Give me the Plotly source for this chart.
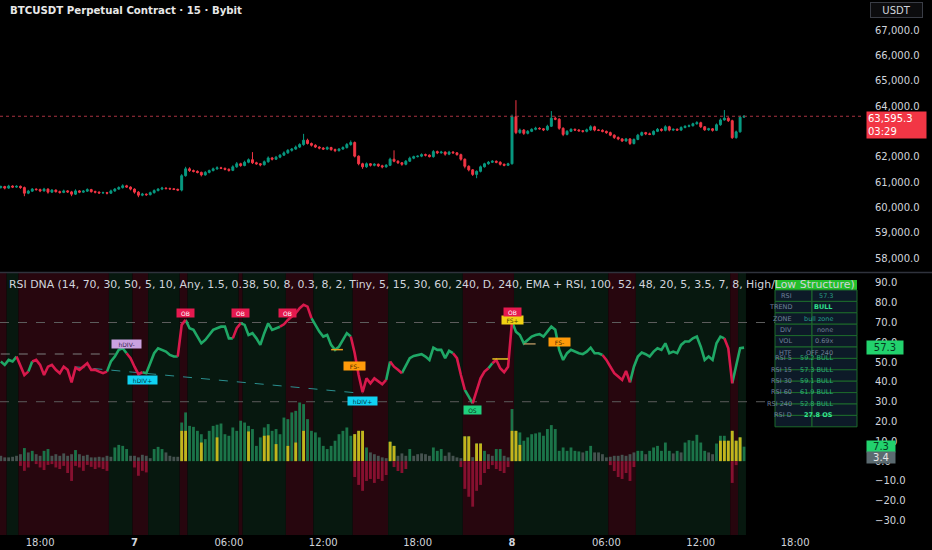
import pandas as pd
import plotly.graph_objects as go

# ---------------- data ----------------
start_time = "2024-07-06 15:30"
first_open = 60780

closes = [
    60820, 60760, 60840, 60800, 60830, 60780, 60560, 60640, 60720, 60700,
    60650, 60720, 60600, 60680, 60620, 60590, 60650, 60610, 60520, 60650,
    60600, 60640, 60700, 60620, 60600, 60570, 60580, 60560, 60650, 60720,
    60780, 60850, 60800, 60720, 60600, 60480, 60520, 60500, 60580, 60660,
    60720, 60760, 60740, 60730, 60710, 60680, 61250, 61520, 61450, 61420,
    61380, 61280, 61380, 61450, 61520, 61560, 61540, 61500, 61460, 61600,
    61720, 61650, 61780, 61880, 61760, 61720, 61680, 61800, 61950, 61900,
    61980, 62060, 62150, 62250, 62300, 62380, 62480, 62650, 62520, 62450,
    62380, 62340, 62300, 62360, 62280, 62240, 62300, 62360, 62480, 62560,
    62020, 61720, 61600, 61720, 61660, 61700, 61640, 61600, 61660, 61900,
    61820, 61760, 61700, 61820, 61940, 62000, 62020, 62080, 62060, 62000,
    62200, 62150, 62180, 62100, 62180, 62150, 62080, 61900, 61620, 61480,
    61300, 61420, 61600, 61720, 61780, 61820, 61780, 61700, 61660, 61720,
    63580, 62950, 63050, 62920, 63000, 63080, 63120, 63100, 63060, 63200,
    63520, 63480, 63120, 62880, 63000, 63080, 63050, 63020, 63000, 63060,
    63180, 63050, 63040, 63000, 62950, 62850, 62760, 62700, 62620, 62700,
    62520, 62680, 62850, 62950, 62900, 62880, 63000, 63080, 63040, 63180,
    63050, 63080, 63050, 63150, 63200, 63220, 63300, 63340, 63180, 63060,
    63100, 63040, 63260, 63450, 63520, 63420, 62750, 62980, 63560, 63595.3,
]
wick_up = [
    40, 30, 50, 30, 40, 30, 40, 50, 40, 30,
    40, 50, 30, 40, 30, 40, 50, 30, 40, 60,
    30, 40, 50, 30, 40, 30, 40, 30, 50, 40,
    50, 60, 40, 30, 30, 40, 50, 30, 40, 50,
    40, 50, 30, 40, 30, 30, 60, 80, 60, 40,
    40, 30, 50, 40, 50, 60, 40, 30, 40, 60,
    70, 40, 60, 50, 300, 40, 30, 50, 60, 40,
    50, 40, 60, 50, 40, 60, 50, 250, 60, 40,
    40, 30, 40, 50, 30, 40, 40, 50, 60, 80,
    40, 30, 40, 50, 30, 40, 30, 40, 50, 60,
    350, 40, 30, 50, 60, 40, 30, 50, 40, 30,
    60, 40, 50, 30, 50, 40, 30, 40, 30, 40,
    30, 40, 50, 40, 50, 40, 30, 40, 30, 40,
    80, 650, 60, 40, 50, 40, 60, 40, 30, 60,
    280, 60, 40, 40, 50, 40, 30, 40, 30, 50,
    60, 40, 30, 40, 30, 40, 30, 40, 30, 40,
    30, 40, 50, 40, 30, 50, 40, 50, 40, 60,
    40, 30, 40, 50, 40, 50, 40, 60, 40, 30,
    40, 30, 50, 60, 320, 40, 40, 50, 60, 40,
]
wick_dn = [
    40, 50, 30, 40, 30, 50, 120, 40, 30, 40,
    50, 30, 60, 30, 40, 50, 30, 40, 80, 30,
    40, 30, 30, 40, 50, 40, 30, 50, 30, 40,
    30, 40, 30, 50, 60, 80, 40, 50, 30, 40,
    30, 40, 30, 40, 30, 40, 50, 40, 50, 40,
    40, 60, 30, 40, 30, 40, 30, 40, 50, 30,
    40, 50, 30, 40, 50, 40, 60, 30, 40, 50,
    30, 40, 30, 40, 50, 30, 40, 50, 40, 50,
    40, 50, 30, 40, 50, 60, 40, 30, 40, 50,
    50, 60, 80, 40, 50, 40, 50, 60, 40, 30,
    40, 50, 60, 40, 30, 40, 30, 40, 50, 30,
    40, 50, 30, 60, 40, 30, 40, 60, 80, 60,
    60, 150, 40, 30, 40, 30, 40, 50, 40, 30,
    30, 60, 50, 60, 40, 30, 40, 30, 50, 40,
    30, 40, 60, 70, 40, 30, 40, 30, 50, 40,
    40, 50, 30, 40, 50, 40, 60, 50, 40, 30,
    60, 40, 30, 40, 50, 30, 40, 30, 50, 40,
    50, 40, 30, 40, 30, 40, 30, 40, 50, 40,
    40, 50, 30, 40, 30, 50, 50, 40, 30, 20,
]
rsi = [
    50.3, 48.6, 51.1, 50.3, 52.8, 47.7, 43.5, 45.2, 50.3, 51.1,
    48.6, 43.5, 47.7, 48.6, 46.1, 44.4, 47.7, 46.1, 39.8, 47.2,
    46.1, 47.7, 49.4, 46.1, 46.1, 45.2, 44.4, 45.2, 50.3, 52.8,
    56.2, 57.0, 54.5, 52.0, 47.7, 43.9, 44.9, 44.4, 49.4, 54.5,
    57.0, 56.2, 55.3, 53.6, 52.8, 52.8, 68.8, 71.3, 67.1, 66.3,
    62.9, 59.5, 61.2, 63.7, 66.3, 67.1, 67.9, 67.9, 62.0, 62.0,
    67.1, 69.6, 68.8, 63.7, 64.6, 62.0, 58.7, 64.6, 69.6, 66.3,
    67.1, 67.9, 69.1, 71.3, 73.0, 74.7, 77.2, 78.9, 78.0, 72.2,
    68.8, 65.4, 62.9, 63.7, 58.7, 56.2, 57.8, 61.2, 64.6, 62.9,
    54.5, 43.5, 34.8, 41.8, 39.3, 41.8, 40.5, 38.8, 41.0, 50.3,
    47.7, 46.1, 44.4, 48.6, 52.0, 53.1, 53.6, 54.0, 52.8, 51.1,
    57.3, 56.2, 56.2, 52.0, 55.7, 54.5, 52.0, 43.5, 36.0, 32.6,
    29.2, 35.1, 41.8, 45.2, 46.9, 49.4, 51.1, 46.9, 44.9, 47.7,
    70.5, 65.4, 63.7, 59.5, 61.2, 62.9, 63.7, 64.1, 62.9, 65.4,
    67.9, 66.3, 56.2, 51.1, 54.5, 56.2, 55.3, 54.5, 54.0, 55.3,
    57.3, 54.5, 54.5, 53.6, 51.1, 47.7, 44.4, 42.7, 41.0, 45.5,
    39.8, 47.7, 52.8, 54.8, 54.0, 52.8, 55.3, 57.0, 56.2, 59.5,
    54.5, 55.3, 54.5, 58.7, 60.4, 60.4, 62.0, 62.9, 57.8, 51.1,
    52.8, 51.1, 59.5, 62.9, 62.0, 57.0, 39.3, 47.7, 57.0, 57.3,
]
# 1 = bullish (green line), 0 = bearish (red line)
rsi_state = [
    0, 1, 1, 1, 1, 0, 0, 0, 1, 0,
    0, 0, 0, 0, 0, 0, 0, 0, 0, 0,
    0, 0, 0, 0, 0, 0, 0, 0, 1, 1,
    1, 1, 1, 0, 0, 0, 0, 1, 1, 1,
    1, 1, 1, 1, 1, 1, 0, 0, 1, 1,
    1, 1, 1, 1, 1, 1, 1, 1, 1, 1,
    0, 0, 1, 1, 1, 1, 1, 1, 1, 1,
    1, 1, 0, 0, 0, 0, 0, 0, 0, 0,
    1, 1, 1, 1, 1, 1, 1, 1, 1, 1,
    0, 0, 0, 0, 0, 0, 0, 0, 0, 1,
    0, 0, 0, 1, 1, 1, 1, 1, 1, 1,
    1, 1, 1, 1, 1, 1, 0, 0, 0, 1,
    1, 0, 0, 0, 0, 1, 0, 0, 0, 0,
    0, 1, 1, 1, 1, 1, 1, 1, 1, 1,
    1, 1, 1, 1, 1, 1, 1, 1, 1, 1,
    1, 1, 1, 1, 0, 0, 0, 0, 0, 0,
    0, 1, 1, 1, 1, 1, 1, 1, 1, 1,
    1, 1, 1, 1, 1, 1, 1, 1, 1, 1,
    1, 1, 1, 1, 1, 0, 0, 1, 1, 1,
]
# background regime: 1 = bull zone, 0 = bear zone
bg_state = [
    0, 0, 1, 1, 1, 0, 0, 0, 0, 0,
    0, 0, 0, 0, 0, 0, 0, 0, 0, 0,
    0, 0, 0, 0, 0, 0, 0, 0, 1, 1,
    1, 1, 1, 1, 0, 0, 0, 0, 1, 1,
    1, 1, 1, 1, 1, 1, 0, 0, 1, 1,
    1, 1, 1, 1, 1, 1, 1, 1, 1, 1,
    1, 0, 1, 1, 1, 1, 1, 1, 1, 1,
    1, 1, 1, 0, 0, 0, 0, 0, 0, 0,
    1, 1, 1, 1, 1, 1, 1, 1, 1, 1,
    0, 0, 0, 0, 0, 0, 0, 0, 0, 1,
    1, 1, 1, 1, 1, 1, 1, 1, 1, 1,
    1, 1, 1, 1, 1, 1, 1, 1, 0, 0,
    0, 0, 0, 0, 0, 0, 0, 0, 0, 0,
    0, 1, 1, 1, 1, 1, 1, 1, 1, 1,
    1, 1, 1, 1, 1, 1, 1, 1, 1, 1,
    1, 1, 1, 1, 1, 0, 0, 0, 0, 0,
    0, 0, 1, 1, 1, 1, 1, 1, 1, 1,
    1, 1, 1, 1, 1, 1, 1, 1, 1, 1,
    1, 1, 1, 1, 1, 1, 0, 0, 1, 1,
]
hist_up = [
    2.7, 1.9, 1.9, 2.2, 2.7, 3.5, 6.6, 4.4, 5.2, 3.5,
    2.7, 5.2, 6.1, 2.7, 3.5, 2.7, 3.9, 2.7, 3.5, 5.6,
    3.5, 2.7, 3.2, 1.9, 1.9, 2.2, 1.9, 2.7, 2.2, 6.9,
    8.2, 7.7, 6.1, 2.7, 2.7, 1.9, 3.2, 2.7, 1.5, 6.1,
    7.2, 6.1, 4.4, 2.7, 2.2, 2.2, 19.5, 24.6, 17.8, 17.3,
    15.3, 13.6, 11.1, 15.3, 17.8, 18.4, 19.0, 13.6, 12.8, 17.0,
    15.3, 20.4, 19.5, 17.8, 16.2, 7.7, 12.0, 17.0, 18.7, 15.3,
    16.2, 13.6, 22.0, 21.2, 24.6, 25.4, 29.6, 28.8, 21.2, 15.3,
    14.5, 12.0, 7.7, 6.1, 7.7, 10.3, 13.6, 15.3, 17.0, 12.8,
    13.6, 15.3, 15.3, 6.9, 4.4, 3.5, 2.7, 1.9, 1.5, 9.8,
    7.7, 2.7, 3.9, 2.7, 6.1, 2.7, 3.5, 3.9, 3.5, 2.7,
    6.9, 5.2, 6.1, 2.7, 4.4, 2.7, 1.9, 1.5, 12.5, 12.5,
    2.0, 8.9, 8.9, 5.2, 3.5, 2.7, 6.1, 6.1, 2.7, 1.9,
    26.3, 15.3, 14.5, 10.3, 12.0, 13.6, 14.0, 14.5, 12.8, 16.2,
    18.2, 16.2, 5.2, 6.9, 5.2, 6.9, 5.2, 4.9, 4.4, 5.2,
    7.7, 4.4, 4.4, 3.5, 1.9, 2.2, 2.7, 2.7, 3.2, 2.7,
    3.5, 4.4, 5.2, 5.2, 3.5, 5.2, 6.9, 7.7, 5.2, 9.4,
    5.2, 3.9, 5.2, 4.4, 9.4, 10.6, 10.3, 13.3, 9.4, 5.2,
    4.4, 3.5, 8.9, 12.8, 12.8, 10.3, 15.3, 10.3, 12.0, 7.3,
]
hist_dn = [
    0, 0, 0, 0, 0, -2.4, -4.9, -3.2, 0, -1.5,
    -3.2, -4.5, -1.9, -1.5, -3.2, -4.0, -2.4, -6.0, -10.0, -2.4,
    -3.2, -4.9, -1.9, -2.9, -4.0, -3.2, -4.0, -4.9, 0, 0,
    0, 0, 0, 0, -3.2, -7.4, -4.9, -5.7, 0, 0,
    0, 0, 0, 0, 0, 0, 0, 0, 0, 0,
    0, 0, 0, 0, 0, 0, 0, 0, 0, 0,
    0, 0, 0, 0, 0, 0, 0, 0, 0, 0,
    0, 0, 0, 0, 0, 0, 0, 0, 0, 0,
    0, 0, 0, 0, 0, 0, 0, 0, 0, 0,
    -8, -12, -15, -10, -9, -11, -9, -10, -7, 0,
    -3, -5, -6, -4, 0, 0, 0, 0, 0, 0,
    0, 0, 0, 0, 0, 0, 0, -3, -14, -18,
    -23, -15, -12, -6, -4, -2, -4, -5, -6, -3,
    0, 0, 0, 0, 0, 0, 0, 0, 0, 0,
    0, 0, 0, 0, 0, 0, 0, 0, 0, 0,
    0, 0, 0, 0, 0, -2, -5, -8, -9, -6,
    -10, -3, 0, 0, 0, 0, 0, 0, 0, 0,
    0, 0, 0, 0, 0, 0, 0, 0, 0, 0,
    0, 0, 0, 0, 0, 0, -11, -2, 0, 0,
]
spike_idx = [46, 47, 51, 55, 63, 67, 68, 70, 73, 75, 77, 90, 91, 92, 99, 100,
             118, 119, 121, 122, 130, 131, 132, 183, 184, 185, 186, 187, 188]
spike_val = [15.3, 15.3, 9.4, 12.0, 15.0, 12.8, 13.0, 8.6, 7.7, 9.4, 15.3, 13.6, 15.3, 15.3, 9.8, 7.7,
             12.5, 12.5, 8.9, 8.9, 15.3, 15.3, 8.2, 10.3, 10.3, 10.3, 15.3, 10.3, 12.0]

sig_bar = [32, 36, 47, 61, 73, 90, 92, 120, 130, 130, 142]
sig_text = ["hDIV-", "hDIV+", "OB", "OB", "OB", "FS-", "hDIV+", "OS", "FS+", "OB", "FS-"]

div_bar_a = [0, 19]
div_bar_b = [29, 92]
div_val_a = [54.1, 47.6]
div_val_b = [54.1, 34.2]

struct_bar_a = [84, 125, 133]
struct_bar_b = [87, 129, 136]
struct_val = [56.3, 51.6, 59.2]

tick_times = ["2024-07-06 18:00", "2024-07-07 00:00", "2024-07-07 06:00", "2024-07-07 12:00",
              "2024-07-07 18:00", "2024-07-08 00:00", "2024-07-08 06:00", "2024-07-08 12:00",
              "2024-07-08 18:00"]
tick_labels = ["18:00", "<b>7</b>", "06:00", "12:00", "18:00", "<b>8</b>", "06:00", "12:00", "18:00"]
price_ticks = [58000, 59000, 60000, 61000, 62000, 63000, 64000, 65000, 66000, 67000]
rsi_ticks = [-30, -20, -10, 0, 10, 20, 30, 40, 50, 60, 70, 80, 90]
ob_level = 70
os_level = 30
last_price = 63595.3
countdown = "03:29"
last_rsi = 57.3
last_bull_hist = 7.3
last_neutral_hist = 3.4

table_labels = ["RSI", "TREND", "ZONE", "DIV", "VOL", "HTF", "RSI 5", "RSI 15", "RSI 30",
                "RSI 60", "RSI 240", "RSI D"]
table_values = ["57.3", "BULL", "bull zone", "none", "0.69x", "OFF 240", "59.2 BULL",
                "57.3 BULL", "59.1 BULL", "61.9 BULL", "52.8 BULL", "27.8 OS"]

chart_title = "BTCUSDT Perpetual Contract · 15 · Bybit"
pane_title = ("RSI DNA (14, 70, 30, 50, 5, 10, Any, 1.5, 0.38, 50, 8, 0.3, 8, 2, Tiny, 5, 15, 30, "
              "60, 240, D, 240, EMA + RSI, 100, 52, 48, 20, 5, 3.5, 7, 8, High/Low Structure)")

# ---------------- styling / build ----------------
FONT = "DejaVu Sans"
TXT = "#d1d4dc"
UP_C = "#089981"
DN_C = "#f23645"
LINE_G = "#1fa866"
LINE_R = "#d8194c"
W, H = 932, 550
L, R, T, B = 0, 70, 0, 15
PW, PH = W - L - R, H - T - B

def px(x):
    return x / PW

def py(y):
    return 1 - y / PH

n = len(closes)
bar = pd.Timedelta(minutes=15)
t0 = pd.Timestamp(start_time)
def t(k):
    return t0 + bar * k
times = [t(i) for i in range(n)]

opens = [first_open] + closes[:-1]
highs = [max(o, c) + w for o, c, w in zip(opens, closes, wick_up)]
lows = [min(o, c) - w for o, c, w in zip(opens, closes, wick_dn)]

fig = go.Figure()

fig.add_trace(go.Candlestick(
    x=times, open=opens, high=highs, low=lows, close=closes,
    increasing=dict(line=dict(color=UP_C, width=1), fillcolor=UP_C),
    decreasing=dict(line=dict(color=DN_C, width=1), fillcolor=DN_C),
    whiskerwidth=0, xaxis="x", yaxis="y", hoverinfo="skip"))

bw = bar.total_seconds() * 1000 * 0.72
up_colors = ["#1b7449" if v >= 4.5 else "#45524f" for v in hist_up]
fig.add_trace(go.Bar(x=times, y=hist_up, width=bw, marker=dict(color=up_colors, line=dict(width=0)),
                     xaxis="x", yaxis="y2", hoverinfo="skip"))
fig.add_trace(go.Bar(x=[times[i] for i in spike_idx], y=spike_val, width=bw,
                     marker=dict(color="#c4b41c", line=dict(width=0)), xaxis="x", yaxis="y2",
                     hoverinfo="skip"))
fig.add_trace(go.Bar(x=times, y=hist_dn, width=bw, marker=dict(color="#86102f", line=dict(width=0)),
                     xaxis="x", yaxis="y2", hoverinfo="skip"))

# divergence dashed lines
div_colors = ["#7d7d7d", "#2a8f8f"]
for a, b, va, vb, c in zip(div_bar_a, div_bar_b, div_val_a, div_val_b, div_colors):
    fig.add_trace(go.Scatter(x=[t(a), t(b)], y=[va, vb], mode="lines",
                             line=dict(color=c, width=1, dash="dash"), xaxis="x", yaxis="y2",
                             hoverinfo="skip"))

# RSI line split in coloured runs
def runs(state_list):
    out = []
    s = 0
    for i in range(1, n + 1):
        if i == n or state_list[i] != state_list[s]:
            out.append((s, i - 1, state_list[s]))
            s = i
    return out

for col_state, col in ((1, LINE_G), (0, LINE_R)):
    xs, ys = [], []
    for s, e, st in runs(rsi_state):
        if st != col_state:
            continue
        s0 = max(s - 1, 0)
        for i in range(s0, e + 1):
            xs.append(times[i])
            ys.append(rsi[i])
        xs.append(None)
        ys.append(None)
    fig.add_trace(go.Scatter(x=xs, y=ys, mode="lines", line=dict(color=col, width=2.6),
                             connectgaps=False, xaxis="x", yaxis="y2", hoverinfo="skip"))

# structure levels
struct_colors = ["#e89a1c", "#e2c51e", "#a88c5c"]
for a, b, v, c in zip(struct_bar_a, struct_bar_b, struct_val, struct_colors):
    fig.add_trace(go.Scatter(x=[t(a), t(b)], y=[v, v], mode="lines", line=dict(color=c, width=1.5),
                             xaxis="x", yaxis="y2", hoverinfo="skip"))

shapes = []
# background regime bands
for s, e, st in runs(bg_state):
    shapes.append(dict(type="rect", xref="x", yref="y2 domain", x0=t(s - 0.5), x1=t(e + 0.5),
                       y0=0, y1=1, fillcolor="#07180f" if st == 1 else "#27060e",
                       line=dict(width=0), layer="below"))
# OB / OS lines
for lv in (ob_level, os_level):
    shapes.append(dict(type="line", xref="paper", yref="y2", x0=0, x1=1, y0=lv, y1=lv,
                       line=dict(color="#5c5c5c", width=1, dash="dash"), layer="below"))
# current price line
shapes.append(dict(type="line", xref="paper", yref="y", x0=0, x1=1, y0=last_price, y1=last_price,
                   line=dict(color="#a83340", width=1, dash="dot")))
# pane separator
shapes.append(dict(type="line", xref="paper", yref="paper", x0=0, x1=W / PW, y0=py(272.5),
                   y1=py(272.5), line=dict(color="#2f323c", width=1.5)))

annotations = []

# signal labels
sig_style = {
    "OB": ("#e5194f", "#ffffff"), "OS": ("#1fd07e", "#0b3320"), "FS-": ("#ff9a0a", "#4a2a00"),
    "FS+": ("#f2d214", "#4a3f00"), "hDIV-": ("#caa2e0", "#3b2450"), "hDIV+": ("#10d2f2", "#06394a"),
}
sig_shift = [9, -7.5, 7, 10, 7, -13, -8.5, -6.5, 1.5, 10, 7.5]
for b_, txt, dy in zip(sig_bar, sig_text, sig_shift):
    bg, fc = sig_style[txt]
    annotations.append(dict(x=t(b_), y=rsi[b_], xref="x", yref="y2", text=txt, showarrow=False,
                            yshift=dy, bgcolor=bg, borderpad=1, width=len(txt) * 4 + 7, height=6,
                            font=dict(family=FONT, size=6, color=fc)))

# table
tx0, tx1, tx2 = 775, 812, 857
ty0, rh = 290, 11.4
shapes.append(dict(type="rect", xref="paper", yref="paper", x0=px(tx0), x1=px(tx2), y0=py(280),
                   y1=py(ty0), fillcolor="#24bf2c", line=dict(width=0), layer="above"))
value_colors = ["#279b84", "#2fe08d", "#249e8c", "#6d7d93", "#6d7d93", "#6d7d93", "#2bb276",
                "#2bb276", "#2bb276", "#2bb276", "#2bb276", "#34e592"]
for k, (lab, val) in enumerate(zip(table_labels, table_values)):
    y0 = ty0 + k * rh
    y1 = y0 + rh
    for xa, xb in ((tx0, tx1), (tx1, tx2)):
        shapes.append(dict(type="rect", xref="paper", yref="paper", x0=px(xa), x1=px(xb),
                           y0=py(y1), y1=py(y0), fillcolor="#0d1a28",
                           line=dict(color="#1d6a2c", width=1), layer="above"))
    annotations.append(dict(x=px((tx0 + tx1) / 2), y=py((y0 + y1) / 2), xref="paper", yref="paper",
                            text=lab, showarrow=False,
                            font=dict(family=FONT, size=6.5, color="#6f819b")))
    bold = val in ("BULL", "27.8 OS")
    annotations.append(dict(x=px((tx1 + tx2) / 2), y=py((y0 + y1) / 2), xref="paper", yref="paper",
                            text=f"<b>{val}</b>" if bold else val, showarrow=False,
                            font=dict(family=FONT, size=6.5, color=value_colors[k])))

# titles
annotations.append(dict(x=px(8), y=py(10), xref="paper", yref="paper", xanchor="left",
                        yanchor="middle", text=chart_title, showarrow=False,
                        font=dict(family=FONT, size=10.2, color="#e8e8e8", weight=600)))
annotations.append(dict(x=px(7), y=py(284), xref="paper", yref="paper", xanchor="left",
                        yanchor="middle", text=pane_title, showarrow=False,
                        font=dict(family=FONT, size=10.9, color=TXT)))

# axis overlay labels
annotations.append(dict(x=px(870), y=py(10), xref="paper", yref="paper", xanchor="left",
                        yanchor="middle", text="USDT", showarrow=False, width=49, height=12,
                        bgcolor="#0c0c0e", bordercolor="#3a3d46", borderwidth=1, borderpad=1,
                        font=dict(family=FONT, size=10, color=TXT)))
annotations.append(dict(x=px(866), y=last_price, xref="paper", yref="y", xanchor="left",
                        yanchor="top", yshift=5, text=f"{last_price:,.1f}<br>{countdown}",
                        showarrow=False, align="left", width=57, bgcolor="#f23645", borderpad=1,
                        font=dict(family=FONT, size=10, color="#ffffff")))
annotations.append(dict(x=px(866), y=last_rsi, xref="paper", yref="y2", xanchor="left",
                        yanchor="middle", text=f"{last_rsi:.1f}", showarrow=False, width=34,
                        bgcolor="#22d26d", borderpad=1, align="center",
                        font=dict(family=FONT, size=10, color="#063a1f")))
annotations.append(dict(x=px(866), y=last_bull_hist, xref="paper", yref="y2", xanchor="left",
                        yanchor="middle", text=f"{last_bull_hist:.1f}", showarrow=False, width=28,
                        bgcolor="#22d26d", borderpad=0, align="center",
                        font=dict(family=FONT, size=10, color="#063a1f")))
annotations.append(dict(x=px(866), y=last_neutral_hist, xref="paper", yref="y2", xanchor="left",
                        yanchor="middle", yshift=-3, text=f"{last_neutral_hist:.1f}", showarrow=False,
                        width=28, bgcolor="#5b6a70", borderpad=0, align="center",
                        font=dict(family=FONT, size=10, color="#e6e6e6")))

fig.update_layout(
    width=W, height=H, margin=dict(l=L, r=R, t=T, b=B),
    paper_bgcolor="#000000", plot_bgcolor="#000000",
    showlegend=False, hovermode=False, barmode="overlay", boxgap=0.3,
    shapes=shapes, annotations=annotations,
    xaxis=dict(domain=[0, 1], anchor="y2", range=[t(-0.2), t(219.0)], showgrid=False,
               zeroline=False, showline=False, tickvals=tick_times, ticktext=tick_labels,
               tickfont=dict(family=FONT, size=10, color=TXT), ticks="", automargin=False,
               rangeslider=dict(visible=False), fixedrange=True),
    yaxis=dict(domain=[(PH - 272) / PH, 1], anchor="x", side="right", range=[57448, 68184],
               tickvals=price_ticks, tickformat=",.1f", showgrid=False, zeroline=False,
               ticks="", ticklabelstandoff=12, automargin=False,
               tickfont=dict(family=FONT, size=10, color=TXT)),
    yaxis2=dict(domain=[0, (PH - 273) / PH], anchor="x", side="right", range=[-37.3, 95.0],
                tickvals=rsi_ticks, tickformat=".1f", showgrid=False, zeroline=False,
                ticks="", ticklabelstandoff=12, automargin=False,
                tickfont=dict(family=FONT, size=10, color=TXT)),
)

fig.write_html("out.html", config={"displayModeBar": False},
               post_script="document.body.style.margin='0';document.body.style.background='#000';")
